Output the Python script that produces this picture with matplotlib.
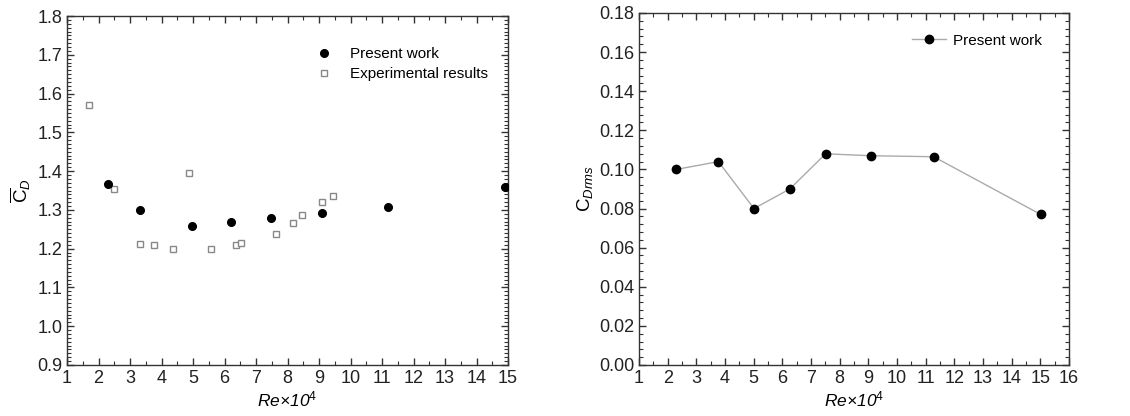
import numpy as np
import matplotlib
matplotlib.use('Agg')
import matplotlib.pyplot as plt
from matplotlib.ticker import MultipleLocator

plt.rcParams['font.family'] = ['Liberation Sans', 'DejaVu Sans']
plt.rcParams['mathtext.fontset'] = 'custom'
plt.rcParams['mathtext.rm'] = 'Liberation Sans'
plt.rcParams['mathtext.it'] = 'Liberation Sans:italic'

# left panel: mean drag coefficient
re_present = [2.29, 3.33, 4.97, 6.22, 7.47, 9.09, 11.2, 14.9]
cd_present = [1.368, 1.299, 1.258, 1.269, 1.279, 1.292, 1.308, 1.358]

re_exp = [1.69, 2.48, 3.33, 3.75, 4.36, 4.88, 5.58, 6.38, 6.53, 7.63, 8.16, 8.46, 9.09, 9.44]
cd_exp = [1.570, 1.355, 1.212, 1.209, 1.200, 1.394, 1.200, 1.209, 1.215, 1.238, 1.265, 1.288, 1.320, 1.335]

# right panel: rms drag coefficient
re_rms = [2.30, 3.77, 5.01, 6.26, 7.51, 9.10, 11.28, 15.01]
cd_rms = [0.100, 0.104, 0.080, 0.090, 0.108, 0.107, 0.1065, 0.077]

fig = plt.figure(figsize=(11.3, 4.16), dpi=100)
ax1 = fig.add_axes([0.0593, 0.1226, 0.3903, 0.8389])
ax2 = fig.add_axes([0.5655, 0.1226, 0.3805, 0.8462])

spine_c = '#333333'
xlab = r'Re×10$^{\mathit{4}}$'


def style(ax):
    for s in ax.spines.values():
        s.set_color(spine_c)
        s.set_linewidth(1.0)
    ax.tick_params(which='both', direction='in', top=True, right=True,
                   colors=spine_c, labelcolor='#222222')
    ax.tick_params(which='major', length=5, width=1, labelsize=13)
    ax.tick_params(which='minor', length=3, width=0.8)
    ax.xaxis.set_minor_locator(MultipleLocator(0.5))


ax1.plot(re_present, cd_present, 'o', color='black', markersize=5.5,
         label='Present work', zorder=3)
ax1.plot(re_exp, cd_exp, 's', markerfacecolor='white', markeredgecolor='#888888',
         markeredgewidth=1.0, markersize=5, label='Experimental results')
ax1.set_xlim(1, 15)
ax1.set_ylim(0.9, 1.8)
ax1.set_xticks(np.arange(1, 16, 1))
ax1.set_yticks(np.arange(0.9, 1.81, 0.1))
ax1.yaxis.set_minor_locator(MultipleLocator(0.01))
ax1.set_yticklabels(['%.1f' % v for v in np.arange(0.9, 1.81, 0.1)])
style(ax1)
ax1.set_xlabel(xlab, fontsize=12.5, fontstyle='italic', labelpad=2)
ax1.set_ylabel(r'$\overline{\mathrm{C}}_D$', fontsize=13.5, labelpad=3)
ax1.legend(loc='upper right', bbox_to_anchor=(0.985, 0.95), frameon=False,
           fontsize=11, handletextpad=0.9, labelspacing=0.4, handlelength=1.5)

ax2.plot(re_rms, cd_rms, '-o', color='#aaaaaa', linewidth=1.0,
         markerfacecolor='black', markeredgecolor='black', markersize=6,
         label='Present work')
ax2.set_xlim(1, 16)
ax2.set_ylim(0, 0.18)
ax2.set_xticks(np.arange(1, 17, 1))
ax2.set_yticks(np.arange(0, 0.181, 0.02))
ax2.yaxis.set_minor_locator(MultipleLocator(0.004))
ax2.set_yticklabels(['%.2f' % v for v in np.arange(0, 0.181, 0.02)])
style(ax2)
ax2.set_xlabel(xlab, fontsize=12.5, fontstyle='italic', labelpad=2)
ax2.set_ylabel(r'$\mathrm{C}_{Drms}$', fontsize=13.5, labelpad=3)
ax2.legend(loc='upper right', bbox_to_anchor=(0.97, 0.98), frameon=False,
           fontsize=11, handletextpad=0.5, handlelength=2.2)

fig.savefig('out.png', dpi=100)
